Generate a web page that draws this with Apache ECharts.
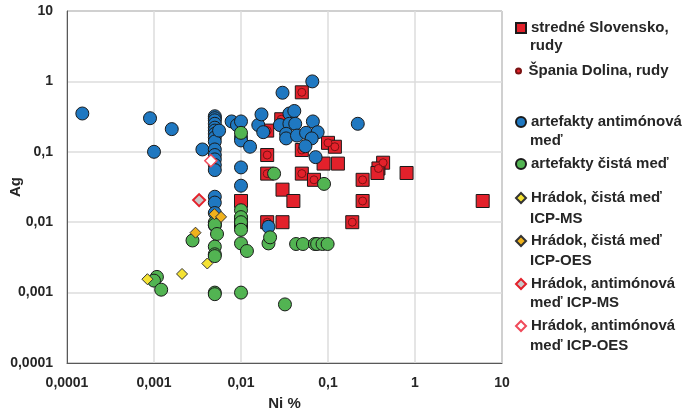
<!DOCTYPE html>
<html>
<head>
<meta charset="utf-8">
<script src="https://cdn.jsdelivr.net/npm/echarts@6/dist/echarts.min.js"></script>
<style>
  html, body { margin: 0; padding: 0; background: #fff; }
  #chart { width: 688px; height: 413px; }
</style>
</head>
<body>
<div id="chart"></div>
<script>
// Ni % (x) a Ag (y), odčítané z grafu
const stredneSlovensko = [
  [0.05, 0.7], [0.029, 0.29], [0.02, 0.2], [0.05, 0.106], [0.02, 0.09], [0.1, 0.134],
  [0.12, 0.118], [0.089, 0.068], [0.13, 0.068], [0.02, 0.049], [0.05, 0.049], [0.069, 0.04],
  [0.25, 0.04], [0.43, 0.07], [0.38, 0.058], [0.37, 0.05], [0.8, 0.05], [0.03, 0.029],
  [0.04, 0.02], [0.01, 0.02], [0.25, 0.02], [0.02, 0.01], [0.03, 0.01], [0.19, 0.01],
  [0.01, 0.01], [6, 0.02]
]
const spaniaDolina = [
  [0.05, 0.7], [0.029, 0.29], [0.02, 0.2], [0.05, 0.106], [0.02, 0.09], [0.1, 0.134],
  [0.12, 0.118], [0.02, 0.049], [0.05, 0.049], [0.069, 0.04], [0.25, 0.04], [0.43, 0.07],
  [0.38, 0.058], [0.25, 0.02], [0.19, 0.01], [0.02, 0.01]
]
const artefaktyAntimonova = [
  [0.00015, 0.35], [0.0009, 0.3], [0.001, 0.1], [0.0016, 0.21], [0.0036, 0.108],
  [0.005, 0.32], [0.005, 0.3], [0.005, 0.28], [0.005, 0.25], [0.005, 0.22], [0.005, 0.2],
  [0.005, 0.18], [0.005, 0.16], [0.005, 0.14], [0.005, 0.108], [0.005, 0.09], [0.005, 0.078],
  [0.005, 0.065], [0.005, 0.055], [0.005, 0.023], [0.005, 0.019], [0.005, 0.0135], [0.005, 0.009],
  [0.0056, 0.2], [0.0078, 0.27], [0.009, 0.24], [0.01, 0.27], [0.01, 0.16], [0.01, 0.145],
  [0.01, 0.06], [0.01, 0.033], [0.0127, 0.118], [0.0158, 0.24], [0.0172, 0.34], [0.018, 0.19],
  [0.0207, 0.0086], [0.03, 0.69], [0.028, 0.24], [0.036, 0.35], [0.041, 0.38], [0.036, 0.25],
  [0.042, 0.25], [0.033, 0.18], [0.033, 0.155], [0.044, 0.17], [0.056, 0.186], [0.067, 0.27],
  [0.076, 0.19], [0.065, 0.155], [0.055, 0.12], [0.072, 0.084], [0.066, 1.0], [0.22, 0.25]
]
const artefaktyCista = [
  [0.00108, 0.00167], [0.001, 0.00148], [0.00121, 0.0011], [0.00277, 0.0055],
  [0.005, 0.0099], [0.005, 0.0092], [0.0053, 0.0068], [0.005, 0.0045], [0.005, 0.0035],
  [0.005, 0.0033], [0.005, 0.001], [0.005, 0.00095], [0.01, 0.186], [0.01, 0.0148],
  [0.01, 0.0118], [0.01, 0.01], [0.01, 0.0078], [0.01, 0.005], [0.0117, 0.0039], [0.01, 0.001],
  [0.0207, 0.005], [0.0216, 0.0061], [0.024, 0.049], [0.032, 0.00068], [0.043, 0.0049],
  [0.0515, 0.0049], [0.0707, 0.0049], [0.075, 0.0049], [0.0865, 0.0049], [0.099, 0.0049],
  [0.09, 0.035]
]
const hradokCistaMS = [[0.00084, 0.00155], [0.0021, 0.00184], [0.0041, 0.00259]]
const hradokCistaOES = [[0.003, 0.0071], [0.00495, 0.013], [0.0059, 0.0119]]
const hradokAntimonovaMS = [[0.0033, 0.0206]]
const hradokAntimonovaOES = [[0.0045, 0.0745]]

const seriesNames = [
  'stredné Slovensko, rudy',
  'Špania Dolina, rudy',
  'artefakty antimónová meď',
  'artefakty čistá meď',
  'Hrádok, čistá meď ICP-MS',
  'Hrádok, čistá meď ICP-OES',
  'Hrádok, antimónová meď ICP-MS',
  'Hrádok, antimónová meď ICP-OES'
]
// legend lines: first line next to the icon, second line below
const legendFirst = ['stredné Slovensko,', 'Špania Dolina, rudy', 'artefakty antimónová',
  'artefakty čistá meď', 'Hrádok, čistá meď', 'Hrádok, čistá meď', 'Hrádok, antimónová', 'Hrádok, antimónová']
const legendSecond = ['rudy', '', 'meď', '', 'ICP-MS', 'ICP-OES', 'meď ICP-MS', 'meď ICP-OES']
const legendY = [28, 71, 122, 164, 198, 241, 284, 326]
const legendY2 = [47, 0, 142, 0, 220, 262, 304, 347]

const font = 'Liberation Sans, Arial, sans-serif'
const txt = '#262626'

const fmt = v => String(+Number(v).toPrecision(1)).replace('.', ',')

const chart = echarts.init(document.getElementById('chart'))

const legends = seriesNames.map((name, i) => ({
  data: [name],
  left: 515,
  top: legendY[i] - 9,
  padding: 0,
  itemWidth: 10,
  itemHeight: i === 1 ? 5 : 10,
  selectedMode: false,
  formatter: () => legendFirst[i],
  textStyle: { fontFamily: font, fontWeight: 'bold', fontSize: 15, color: txt, lineHeight: 18 }
}))

const graphics = legendSecond.map((t, i) => t ? {
  type: 'text',
  left: 530,
  top: legendY2[i] - 9,
  style: { text: t, font: 'bold 15px ' + font, fill: txt }
} : null).filter(Boolean)

const border = '#1a1a1a'

chart.setOption({
  animation: false,
  legend: legends,
  graphic: graphics,
  grid: {
    left: 67, top: 11, right: 186, bottom: 50,
    outerBoundsMode: 'none',
    containLabel: false,
    show: true, borderColor: '#595959', borderWidth: 1
  },
  xAxis: {
    type: 'log', logBase: 10, min: 0.0001, max: 10,
    name: 'Ni %', nameLocation: 'middle', nameGap: 33, nameMoveOverlap: false,
    nameTextStyle: { fontFamily: font, fontWeight: 'bold', fontSize: 15, color: txt },
    axisLine: { lineStyle: { color: '#595959' } },
    axisTick: { show: false },
    axisLabel: { formatter: fmt, margin: 13, fontFamily: font, fontWeight: 'bold', fontSize: 14, color: txt },
    splitLine: { show: true, lineStyle: { color: '#dcdcdc', width: 1.5 } }
  },
  yAxis: {
    type: 'log', logBase: 10, min: 0.0001, max: 10,
    name: 'Ag', nameLocation: 'middle', nameGap: 44, nameRotate: 90, nameMoveOverlap: false,
    nameTextStyle: { fontFamily: font, fontWeight: 'bold', fontSize: 15, color: txt },
    axisLine: { lineStyle: { color: '#595959' } },
    axisTick: { show: false },
    axisLabel: { formatter: fmt, margin: 14, fontFamily: font, fontWeight: 'bold', fontSize: 14, color: txt },
    splitLine: { show: true, lineStyle: { color: '#dcdcdc', width: 1.5 } }
  },
  series: [
    {
      name: seriesNames[0], type: 'scatter', symbol: 'rect', symbolSize: 13,
      itemStyle: { color: '#E3212B', borderColor: border, borderWidth: 1, opacity: 1 },
      data: stredneSlovensko
    },
    {
      name: seriesNames[1], type: 'scatter', symbol: 'circle', symbolSize: 8,
      itemStyle: { color: '#E3212B', borderColor: '#7a1212', borderWidth: 1, opacity: 1 },
      data: spaniaDolina
    },
    {
      name: seriesNames[2], type: 'scatter', symbol: 'circle', symbolSize: 13,
      itemStyle: { color: '#1F78C1', borderColor: border, borderWidth: 1, opacity: 1 },
      data: artefaktyAntimonova
    },
    {
      name: seriesNames[3], type: 'scatter', symbol: 'circle', symbolSize: 13,
      itemStyle: { color: '#52B452', borderColor: border, borderWidth: 1, opacity: 1 },
      data: artefaktyCista
    },
    {
      name: seriesNames[4], type: 'scatter', symbol: 'diamond', symbolSize: 11,
      itemStyle: { color: '#F4E233', borderColor: '#333', borderWidth: 1, opacity: 1 },
      data: hradokCistaMS
    },
    {
      name: seriesNames[5], type: 'scatter', symbol: 'diamond', symbolSize: 11,
      itemStyle: { color: '#F0B21C', borderColor: '#333', borderWidth: 1, opacity: 1 },
      data: hradokCistaOES
    },
    {
      name: seriesNames[6], type: 'scatter', symbol: 'diamond', symbolSize: 12,
      itemStyle: { color: '#C8C8C8', borderColor: '#E3212B', borderWidth: 2, opacity: 1 },
      data: hradokAntimonovaMS
    },
    {
      name: seriesNames[7], type: 'scatter', symbol: 'diamond', symbolSize: 12,
      itemStyle: { color: '#ffffff', borderColor: '#F04A5A', borderWidth: 1.5, opacity: 1 },
      data: hradokAntimonovaOES
    }
  ]
})
</script>
</body>
</html>
